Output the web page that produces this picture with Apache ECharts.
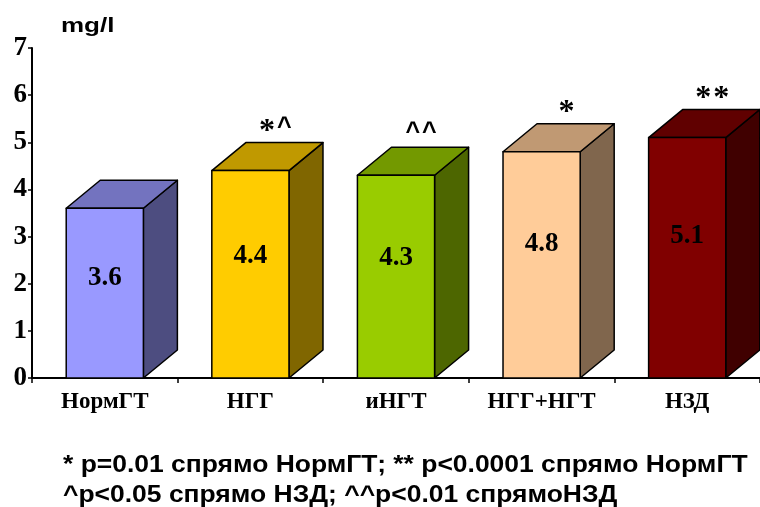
<!DOCTYPE html>
<html>
<head>
<meta charset="utf-8">
<script src="https://cdn.jsdelivr.net/npm/echarts@6/dist/echarts.min.js"></script>
<style>
  html, body { margin: 0; padding: 0; background: #fff; }
  #chart { width: 760px; height: 507px; }
</style>
</head>
<body>
<div id="chart"></div>
<script>
// Groups and mean values (mg/l)
var categories = ['НормГТ', 'НГГ', 'иНГТ', 'НГГ+НГТ', 'НЗД'];
var values = [3.6, 4.4, 4.3, 4.8, 5.1];
// Significance marks printed above each bar
var marks = ['', '*^', '^^', '*', '**'];
var yTicks = [0, 1, 2, 3, 4, 5, 6, 7];
var footnotes = [
  '* p=0.01 спрямо НормГТ; ** p<0.0001 спрямо НормГТ',
  '^p<0.05 спрямо НЗД; ^^p<0.01 спрямоНЗД'
];

// Face colours of each box: front, top, side
var palette = [
  ['#9999FF', '#7373BF', '#4D4D80'],
  ['#FFCC00', '#C09900', '#806600'],
  ['#99CC00', '#739900', '#4D6600'],
  ['#FFCC99', '#C09973', '#80664D'],
  ['#800000', '#600000', '#400000']
];

var DEPTH_X = 34, DEPTH_Y = 28;
var SERIF = '"Liberation Serif", "DejaVu Serif", serif';
var SANS = '"Liberation Sans", Arial, sans-serif';

// Asterisks in serif, carets in bold sans
function markText(s) {
  return s.split('').map(function (ch) {
    return ch === '*' ? '{a|*}' : '{c|^}';
  }).join('');
}

function renderBox(params, api) {
  var i = api.value(0);
  var v = api.value(1);
  var base = api.coord([i, 0]);
  var top = api.coord([i, v]);
  var mid = api.coord([i, v * 0.59]);
  var bw = api.size([1, 0])[0] * 0.53;
  var x0 = base[0] - bw / 2, x1 = base[0] + bw / 2;
  var y0 = base[1], y1 = top[1];
  var c = palette[i];
  var line = { stroke: '#000', lineWidth: 1.5, lineJoin: 'round' };
  return {
    type: 'group',
    children: [
      {
        type: 'polygon',
        shape: { points: [[x1, y0], [x1 + DEPTH_X, y0 - DEPTH_Y], [x1 + DEPTH_X, y1 - DEPTH_Y], [x1, y1]] },
        style: Object.assign({ fill: c[2] }, line)
      },
      {
        type: 'polygon',
        shape: { points: [[x0, y1], [x0 + DEPTH_X, y1 - DEPTH_Y], [x1 + DEPTH_X, y1 - DEPTH_Y], [x1, y1]] },
        style: Object.assign({ fill: c[1] }, line)
      },
      {
        type: 'rect',
        shape: { x: x0, y: y1, width: x1 - x0, height: y0 - y1 },
        style: Object.assign({ fill: c[0] }, line)
      },
      {
        type: 'text',
        x: base[0], y: mid[1],
        style: {
          text: String(v), fill: '#000',
          font: 'bold 27px ' + SERIF,
          align: 'center', verticalAlign: 'middle'
        }
      },
      {
        type: 'text',
        x: base[0] + 25, y: y1 - DEPTH_Y - 16,
        style: {
          text: markText(marks[i]), fill: '#000',
          align: 'center', verticalAlign: 'middle',
          rich: {
            a: { font: 'bold 32px ' + SERIF, fill: '#000', padding: [10, 1, 0, 1] },
            c: { font: 'bold 25px ' + SANS, fill: '#000', padding: [4, 1, 0, 1] }
          }
        }
      }
    ]
  };
}

var chart = echarts.init(document.getElementById('chart'), null, { renderer: 'canvas' });
chart.setOption({
  animation: false,
  backgroundColor: '#fff',
  grid: { left: 32, top: 48, width: 734, height: 330, containLabel: false },
  xAxis: {
    type: 'category',
    data: categories,
    axisLine: { lineStyle: { color: '#000', width: 2 } },
    axisTick: { show: true, length: 5, lineStyle: { color: '#000', width: 1.5 } },
    axisLabel: {
      color: '#000', fontFamily: SERIF, fontWeight: 'bold', fontSize: 23, margin: 13
    }
  },
  yAxis: {
    type: 'value',
    min: yTicks[0], max: yTicks[yTicks.length - 1], interval: 1,
    axisLine: { show: true, lineStyle: { color: '#000', width: 2 } },
    axisTick: { show: true, length: 4, lineStyle: { color: '#000', width: 1.5 } },
    splitLine: { show: false },
    axisLabel: {
      color: '#000', fontFamily: SERIF, fontWeight: 'bold', fontSize: 27, margin: 5
    }
  },
  series: [{
    type: 'custom',
    renderItem: renderBox,
    clip: false,
    data: values.map(function (v, i) { return [i, v]; })
  }],
  graphic: [
    {
      type: 'text', x: 61, y: 16, scaleX: 1.3,
      style: { text: 'mg/l', fill: '#000', font: 'bold 20px ' + SANS }
    },
    {
      type: 'text', x: 63, y: 454, scaleX: 1.15,
      style: { text: footnotes[0], fill: '#000', font: 'bold 23px ' + SANS }
    },
    {
      type: 'text', x: 63, y: 484, scaleX: 1.15,
      style: { text: footnotes[1], fill: '#000', font: 'bold 23px ' + SANS }
    }
  ]
});
</script>
</body>
</html>
